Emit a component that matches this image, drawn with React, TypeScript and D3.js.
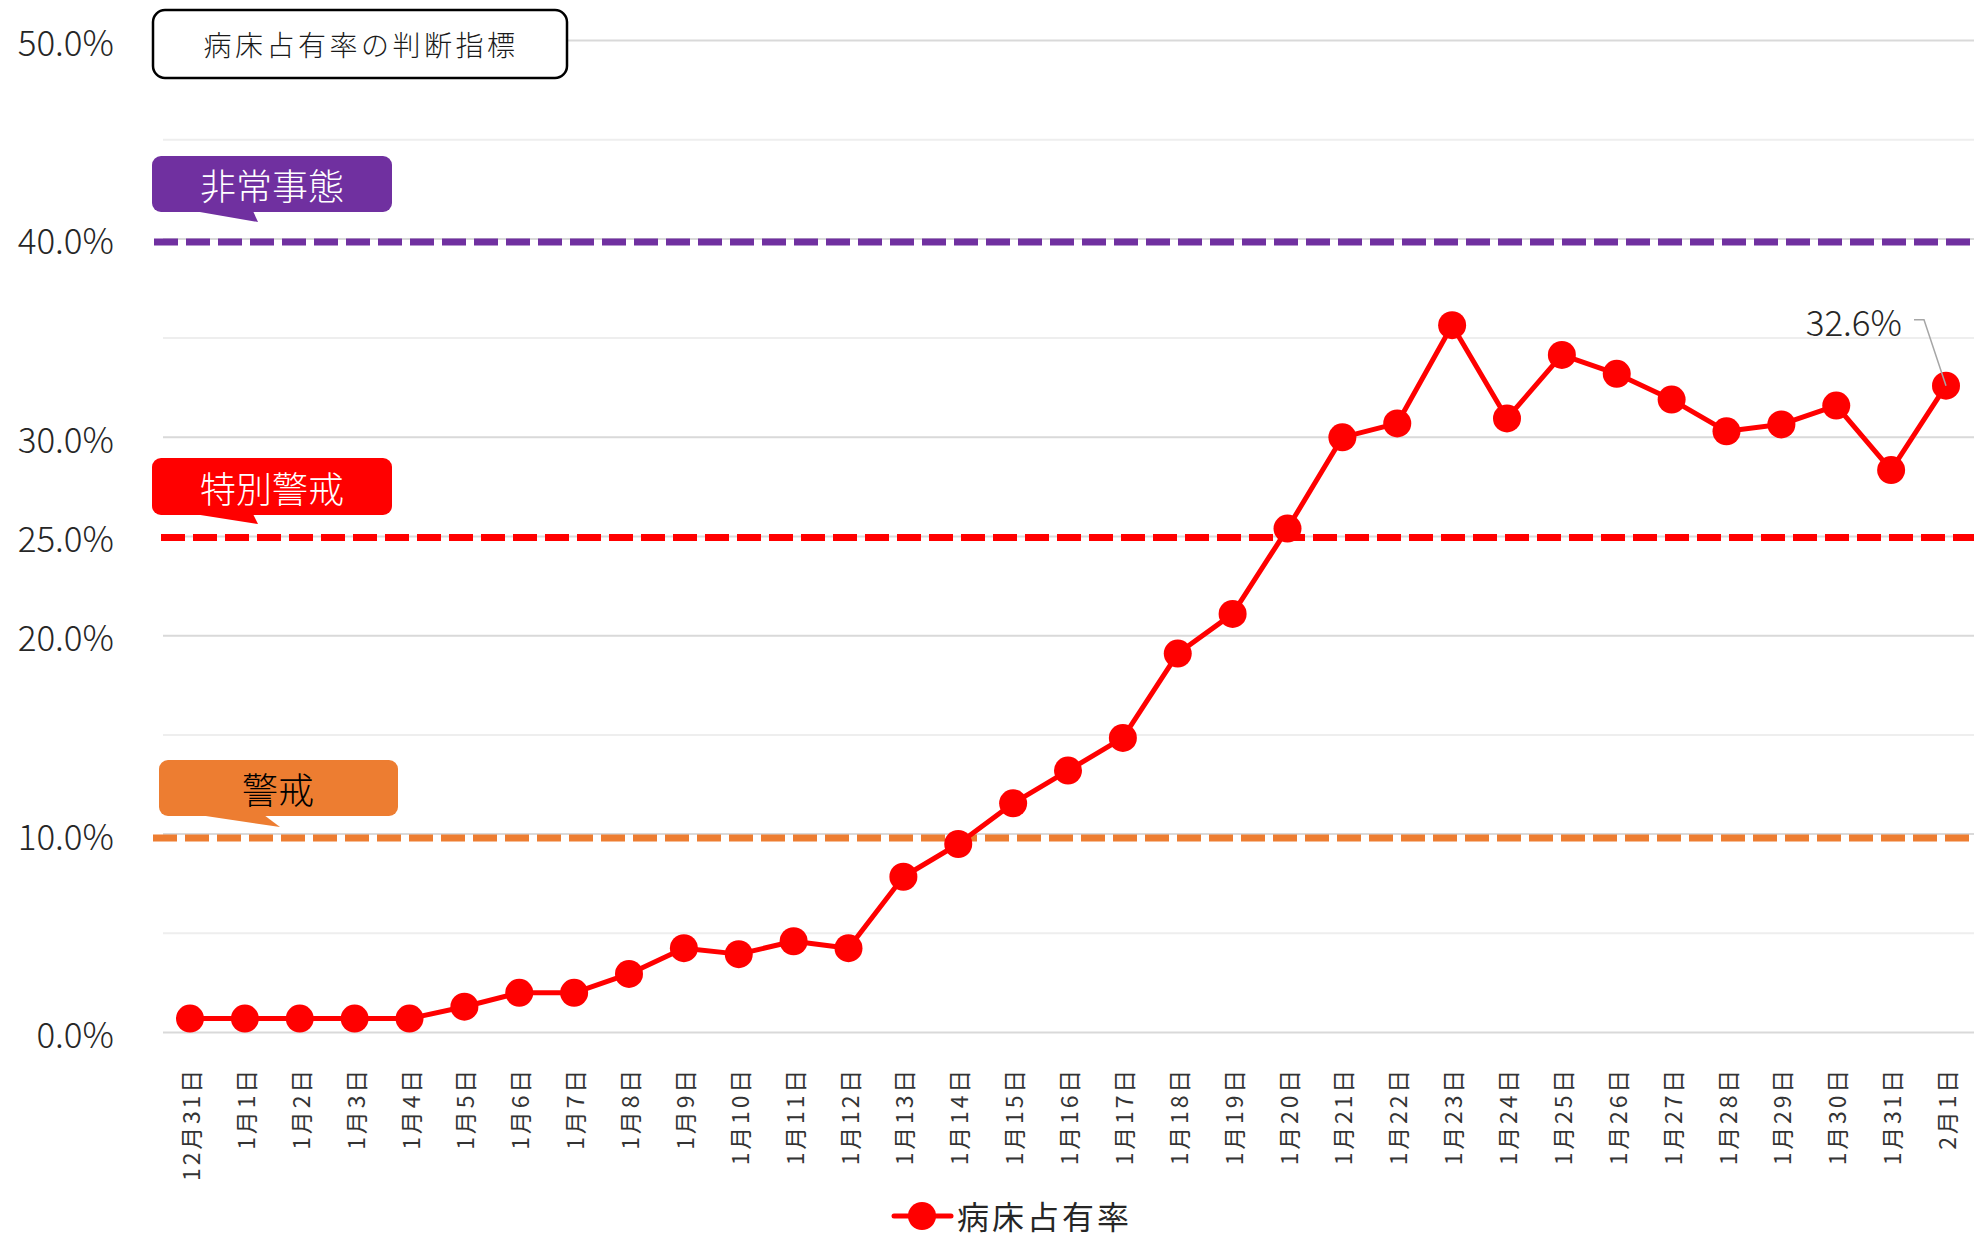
import React from "react";
import * as d3 from "d3";

const categories = [
  "12月31日", "1月1日", "1月2日", "1月3日", "1月4日", "1月5日", "1月6日", "1月7日",
  "1月8日", "1月9日", "1月10日", "1月11日", "1月12日", "1月13日", "1月14日", "1月15日",
  "1月16日", "1月17日", "1月18日", "1月19日", "1月20日", "1月21日", "1月22日", "1月23日",
  "1月24日", "1月25日", "1月26日", "1月27日", "1月28日", "1月29日", "1月30日", "1月31日",
  "2月1日",
];

const occupancy = [
  0.7, 0.7, 0.7, 0.7, 0.7, 1.3, 2.0, 2.0,
  2.95, 4.25, 3.95, 4.6, 4.25, 7.85, 9.5, 11.55,
  13.2, 14.85, 19.1, 21.1, 25.4, 30.0, 30.7, 35.65,
  30.95, 34.15, 33.2, 31.9, 30.3, 30.65, 31.6, 28.35,
  32.6,
];

const seriesName = "病床占有率";
const yLabelTicks = [0, 10, 20, 25, 30, 40, 50];
const yMinorTicks = [5, 15, 35, 45];

const thresholds = [
  { name: "非常事態", value: 40, color: "#7030A0", text: "#ffffff" },
  { name: "特別警戒", value: 25, color: "#FF0000", text: "#ffffff" },
  { name: "警戒", value: 10, color: "#ED7D31", text: "#000000" },
];

const titleText = "病床占有率の判断指標";
const lastLabel = "32.6%";

const W = 1984;
const H = 1237;
const FONT = "'Noto Sans CJK JP', 'Noto Sans', sans-serif";

export default function App() {
  const x = d3.scalePoint<string>().domain(categories).range([190, 1946]);
  const y = d3.scaleLinear().domain([0, 50]).range([1032.5, 40.5]);
  const gridX0 = 163;
  const gridX1 = 1974;

  const line = d3
    .line<number>()
    .x((_, i) => x(categories[i]) as number)
    .y((d) => y(d));

  // callout geometry (style/layout only)
  const callouts = [
    { box: [152, 156, 240, 56], tail: [[194, 0], [253, 0], [258, 11]], line: [154, 3], tx: 272 },
    { box: [152, 458, 240, 57], tail: [[194, 0], [253, 0], [258, 10]], line: [161, 1], tx: 272 },
    { box: [159, 760, 239, 56], tail: [[199, 0], [264, 0], [280, 12]], line: [153, 4], tx: 278 },
  ];

  const lastIdx = occupancy.length - 1;
  const lx = x(categories[lastIdx]) as number;
  const ly = y(occupancy[lastIdx]);

  return (
    <svg
      width={W}
      height={H}
      style={{ position: "absolute", left: 0, top: 0, background: "#fff" }}
      fontFamily={FONT}
    >
      <rect x={0} y={0} width={W} height={H} fill="#ffffff" />
      {/* gridlines */}
      {yMinorTicks.map((t) => (
        <line key={"m" + t} x1={gridX0} x2={gridX1} y1={y(t)} y2={y(t)} stroke="#eeeeee" strokeWidth={2} />
      ))}
      {yLabelTicks.map((t) => (
        <line key={"g" + t} x1={gridX0} x2={gridX1} y1={y(t)} y2={y(t)} stroke="#d9d9d9" strokeWidth={2} />
      ))}
      {/* y labels */}
      {yLabelTicks.map((t) => (
        <text
          key={"yl" + t}
          x={114}
          y={y(t)}
          textAnchor="end"
          dominantBaseline="central"
          fontSize={35}
          fontWeight={300}
          fill="#262626"
        >
          {t.toFixed(1) + "%"}
        </text>
      ))}
      {/* threshold dashed lines */}
      {thresholds.map((th, i) => (
        <line
          key={"th" + i}
          x1={callouts[i].line[0]}
          x2={gridX1}
          y1={y(th.value) + callouts[i].line[1]}
          y2={y(th.value) + callouts[i].line[1]}
          stroke={th.color}
          strokeWidth={7}
          strokeDasharray="24 8"
        />
      ))}
      {/* callouts */}
      {thresholds.map((th, i) => {
        const [bx, by, bw, bh] = callouts[i].box;
        const bottom = by + bh - 1;
        const pts = callouts[i].tail.map(([px, py]) => `${px},${bottom + py}`).join(" ");
        return (
          <g key={"co" + i}>
            <rect x={bx} y={by} width={bw} height={bh} rx={9} fill={th.color} />
            <polygon points={pts} fill={th.color} />
            <text
              x={callouts[i].tx}
              y={by + bh / 2}
              textAnchor="middle"
              dominantBaseline="central"
              fontSize={36}
              fontWeight={300}
              fill={th.text}
            >
              {th.name}
            </text>
          </g>
        );
      })}
      {/* title box */}
      <rect x={153} y={10} width={414} height={68} rx={12} fill="#ffffff" stroke="#000000" strokeWidth={2.5} />
      <text
        x={361}
        y={44}
        textAnchor="middle"
        dominantBaseline="central"
        fontSize={28}
        letterSpacing={3.5}
        fontWeight={300}
        fill="#1a1a1a"
      >
        {titleText}
      </text>
      {/* data line */}
      <path d={line(occupancy) || ""} fill="none" stroke="#FF0000" strokeWidth={5} strokeLinejoin="round" />
      {occupancy.map((v, i) => (
        <circle key={"p" + i} cx={x(categories[i]) as number} cy={y(v)} r={14} fill="#FF0000" />
      ))}
      {/* last data label */}
      <polyline
        points={`${lx - 32},${ly - 66} ${lx - 22},${ly - 66} ${lx},${ly}`}
        fill="none"
        stroke="#a6a6a6"
        strokeWidth={1.5}
      />
      <text
        x={lx - 44}
        y={ly - 65}
        textAnchor="end"
        dominantBaseline="central"
        fontSize={35}
        fontWeight={300}
        fill="#262626"
      >
        {lastLabel}
      </text>
      {/* x labels */}
      {categories.map((c) => {
        const cx = x(c) as number;
        return (
          <text
            key={"xl" + c}
            transform={`translate(${cx},1067) rotate(-90)`}
            textAnchor="end"
            dominantBaseline="central"
            fontSize={23}
            letterSpacing={2.8}
            fill="#333333"
          >
            {c}
          </text>
        );
      })}
      {/* legend */}
      <line x1={894} x2={951} y1={1216} y2={1216} stroke="#FF0000" strokeWidth={5} strokeLinecap="round" />
      <circle cx={922} cy={1216} r={14} fill="#FF0000" />
      <text x={957} y={1215} dominantBaseline="central" fontSize={32} letterSpacing={3} fill="#262626">
        {seriesName}
      </text>
    </svg>
  );
}
